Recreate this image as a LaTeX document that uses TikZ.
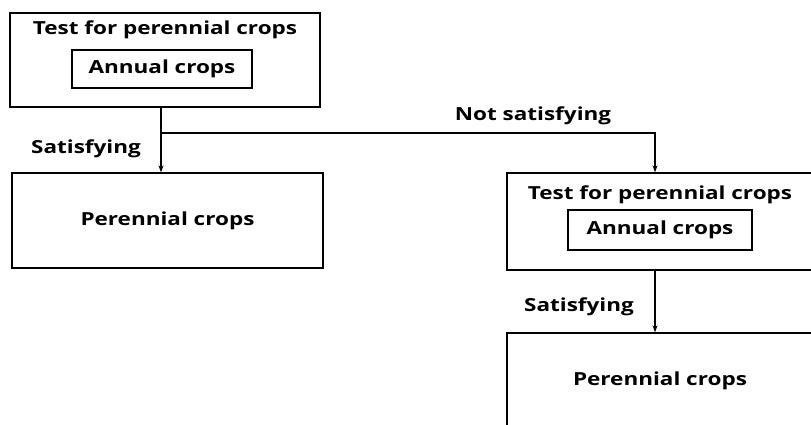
\documentclass[tikz,border=0pt]{standalone}
\usepackage{fontspec}
\setmainfont[FakeStretch=1.25]{Open Sans}
\usetikzlibrary{arrows.meta}
\begin{document}
\begin{tikzpicture}[x=1pt,y=-1pt,
  box/.style={draw,line width=1.3pt,inner sep=0pt},
  lbl/.style={font=\bfseries\fontsize{18}{21}\selectfont,inner sep=0pt},
  conn/.style={line width=1.2pt},
  arr/.style={conn,-{Stealth[length=7pt,width=5pt]}}]
\useasboundingbox (0,0) rectangle (811,424);
% top-left test box
\node[box,minimum width=310pt,minimum height=94pt] (A) at (165,60) {};
\node[lbl] (At) at (165,30) {Test for perennial crops};
\node[box,lbl,minimum width=180pt,minimum height=38pt] (Ai) at (162,69) {Annual crops};
% left result
\node[box,lbl,minimum width=311pt,minimum height=95pt] (B) at (167.5,220.5) {Perennial crops};
% right test box
\node[box,minimum width=306pt,minimum height=97pt] (C) at (660,221.5) {};
\node[lbl] (Ct) at (660,195) {Test for perennial crops};
\node[box,lbl,minimum width=184pt,minimum height=40pt] (Ci) at (660,230) {Annual crops};
% right result
\node[box,lbl,minimum width=306pt,minimum height=96pt] (D) at (660,381) {Perennial crops};
% connectors
\coordinate (j) at (161,133);
\coordinate (k) at (655,133);
\draw[conn] (A.south -| j) -- (j);
\draw[arr] (j) -- (B.north -| j);
\draw[arr] (j) -- (k) -- (C.north -| k);
\draw[arr] (C.south -| k) -- (D.north -| k);
% labels
\node[lbl] (ns) at (533,116) {Not satisfying};
\node[lbl] (s1) at (86,149) {Satisfying};
\node[lbl] (s2) at (579,307) {Satisfying};
\end{tikzpicture}
\end{document}
